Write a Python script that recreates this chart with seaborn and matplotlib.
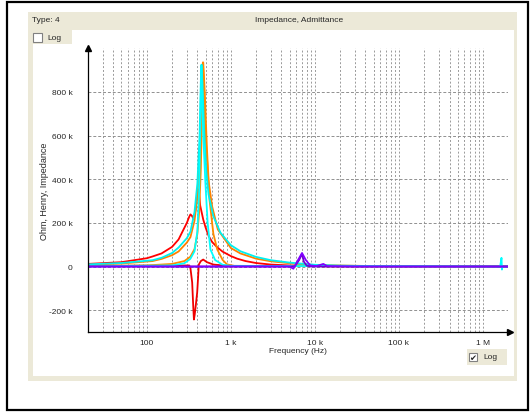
import numpy as np
import pandas as pd
import matplotlib
matplotlib.use("Agg")
import matplotlib.pyplot as plt
from matplotlib.patches import Rectangle
import seaborn as sns

# ---------------- data (values in k) ----------------
red_wide_f = [20, 50, 100, 117, 150, 200, 239, 270, 300, 320, 331, 345, 363, 380, 395, 410, 420, 432,
              470, 500, 545, 600, 690, 800, 1000, 1190, 1500, 2000, 3000, 5000, 8000, 15000, 2e6]
red_wide_v = [12, 20, 38, 46, 60, 90, 124, 165, 200, 228, 239, 232, 216, 260, 320, 354, 330, 280,
              215, 180, 140, 112, 88, 68, 48, 36, 25, 16, 9, 5, 3, 1, 1]

red_narrow_f = [20, 200, 320, 331, 347, 357, 364, 372, 385, 398, 408, 416, 440, 469, 520, 622, 800, 1000, 2e6]
red_narrow_v = [3, 4, 5, -8, -73, -180, -243, -220, -170, -119, -50, 9, 25, 32, 20, 9, 5, 3, 1]

orange_wide_f = [20, 50, 117, 150, 200, 239, 300, 331, 370, 400, 430, 455, 465, 480, 500, 540, 600,
                 700, 1000, 1300, 2000, 3000, 5000, 10000, 50000, 2e6]
orange_wide_v = [8, 14, 25, 35, 52, 69, 110, 135, 210, 320, 520, 800, 935, 820, 600, 400, 275,
                 170, 85, 60, 36, 24, 15, 7, 2, 0]

orange_narrow_f = [20, 100, 200, 280, 330, 370, 400, 420, 440, 455, 470, 490, 520, 560, 620, 690,
                   800, 900, 1100, 2e6]
orange_narrow_v = [2, 5, 12, 25, 45, 80, 150, 250, 450, 700, 935, 800, 540, 300, 150, 78,
                   30, 10, 3, 0]

cyan_wide_f = [20, 50, 117, 150, 200, 239, 300, 331, 370, 400, 425, 440, 448, 460, 480, 510, 543,
               620, 753, 1000, 1300, 2000, 3000, 5000, 7000, 10000, 20000, 50000, 2e6]
cyan_wide_v = [10, 16, 29, 40, 62, 87, 130, 160, 250, 380, 600, 850, 925, 840, 640, 440, 330,
               230, 155, 98, 70, 44, 29, 18, 13, 8, 4, 2, 0]

cyan_narrow_f = [20, 200, 280, 330, 370, 400, 420, 435, 445, 455, 470, 498, 530, 572, 650, 800,
                 1000, 1.6e6, 1.66e6, 1.68e6, 1.70e6, 2e6]
cyan_narrow_v = [1, 5, 15, 35, 70, 160, 350, 650, 920, 800, 600, 386, 200, 78, 30, 8,
                 3, 0, 40, -14, 0, 0]

purple_f = [20, 1000, 5000, 5550, 6200, 7030, 7800, 8800, 10500, 12600, 14000, 30000, 2e6]
purple_v = [0, 0, 0, -10, 25, 62, 30, 5, 2, 12, 2, 0, 0]

purple2_f = [20, 5000, 5800, 6500, 7030, 7400, 8000, 9000, 2e6]
purple2_v = [0, 0, 2, 30, 58, 22, 4, 0, 0]

series_names = ["red_wide", "red_narrow", "orange_wide", "orange_narrow",
                "cyan_wide", "cyan_narrow", "purple2", "purple"]
series_data = {
    "red_wide": (red_wide_f, red_wide_v),
    "red_narrow": (red_narrow_f, red_narrow_v),
    "orange_wide": (orange_wide_f, orange_wide_v),
    "orange_narrow": (orange_narrow_f, orange_narrow_v),
    "cyan_wide": (cyan_wide_f, cyan_wide_v),
    "cyan_narrow": (cyan_narrow_f, cyan_narrow_v),
    "purple2": (purple2_f, purple2_v),
    "purple": (purple_f, purple_v),
}
palette = {
    "red_wide": "#ff0000", "red_narrow": "#f00000",
    "orange_wide": "#ff8000", "orange_narrow": "#ff8a00",
    "cyan_wide": "#00f0f0", "cyan_narrow": "#00ffff",
    "purple2": "#7000d0", "purple": "#8000ff",
}

x_major = [100, 1e3, 1e4, 1e5, 1e6]
x_labels = ["100", "1 k", "10 k", "100 k", "1 M"]
y_ticks = [-200, 0, 200, 400, 600, 800]
y_labels = ["-200 k", "0", "200 k", "400 k", "600 k", "800 k"]

rows = []
for name in series_names:
    f, v = series_data[name]
    for i, (a, b) in enumerate(zip(f, v)):
        rows.append({"series": name, "freq": a, "value": b, "order": i})
df = pd.DataFrame(rows)

# ---------------- figure ----------------
sns.set_style("white")
plt.rcParams["font.family"] = ["Liberation Sans", "DejaVu Sans"]

W, H = 530, 414
fig = plt.figure(figsize=(W / 100, H / 100), dpi=100)
fig.patch.set_facecolor("white")


def prect(x0, y0, x1, y1, **kw):
    r = Rectangle((x0 / W, 1 - y1 / H), (x1 - x0) / W, (y1 - y0) / H,
                  transform=fig.transFigure, zorder=-10, **kw)
    fig.patches.append(r)
    return r


def ptext(x, y, s, **kw):
    fig.text(x / W, 1 - y / H, s, **kw)


beige = "#ece9d8"
prect(7, 3, 528, 411, facecolor="white", edgecolor="black", linewidth=1.6)
prect(28, 13, 517, 382, facecolor=beige, edgecolor="none")
prect(33, 31, 514, 377, facecolor="white", edgecolor="none")
prect(28, 31, 72, 45, facecolor=beige, edgecolor="none")
prect(33, 34, 42, 43, facecolor="white", edgecolor="#808080", linewidth=0.8)
ptext(47, 38.5, "Log", fontsize=6, va="center", ha="left")
prect(467, 350, 507, 366, facecolor=beige, edgecolor="none")
prect(469, 354, 477, 362, facecolor="white", edgecolor="#808080", linewidth=0.8)
ptext(473, 358.5, "✔", fontsize=6, va="center", ha="center", family=["DejaVu Sans"])
ptext(483, 358, "Log", fontsize=6, va="center", ha="left")
ptext(32, 21, "Type: 4", fontsize=6, va="center", ha="left")
ptext(299, 21, "Impedance, Admittance", fontsize=6, va="center", ha="center")

ax = fig.add_axes([88 / W, 1 - 333 / H, (508.3 - 88) / W, (333 - 49.3) / H])
ax.set_facecolor("none")
ax.set_zorder(5)

sns.lineplot(data=df, x="freq", y="value", hue="series", palette=palette,
             hue_order=series_names, estimator=None, sort=False, units="series",
             linewidth=1.3, legend=False, ax=ax)

ax.set_xscale("log")
ax.set_xlim(20, 2e6)
ax.set_ylim(-300, 1000)

ax.set_xticks(x_major)
ax.set_xticklabels(x_labels)
minor = [m * 10 ** e for e in range(1, 7) for m in range(2, 10) if m * 10 ** e <= 2e6]
ax.set_xticks(minor, minor=True)
ax.xaxis.set_minor_formatter(matplotlib.ticker.NullFormatter())
ax.set_yticks(y_ticks)
ax.set_yticklabels(y_labels)
ax.tick_params(which="both", length=0, labelsize=6)
ax.tick_params(axis="y", pad=11)
ax.tick_params(axis="x", pad=5)

ax.grid(which="both", axis="x", color="#999999", linestyle=(0, (2, 2)), linewidth=0.7)
ax.grid(which="major", axis="y", color="#909090", linestyle=(0, (3, 2)), linewidth=0.7)
ax.set_axisbelow(True)

for s in ["top", "right"]:
    ax.spines[s].set_visible(False)
for s in ["left", "bottom"]:
    ax.spines[s].set_color("black")
    ax.spines[s].set_linewidth(0.9)

ax.plot([0], [1.0], marker="^", color="black", markersize=4.5, transform=ax.transAxes, clip_on=False)
ax.plot([1.005], [0], marker=">", color="black", markersize=4.5, transform=ax.transAxes, clip_on=False)

ax.set_xlabel("Frequency (Hz)", fontsize=6, labelpad=1)
ax.set_ylabel("Ohm, Henry, Impedance", fontsize=6.5, labelpad=0)

fig.savefig("out.png", dpi=100)
